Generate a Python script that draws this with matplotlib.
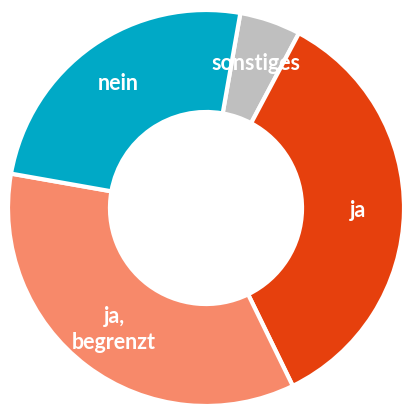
import matplotlib
matplotlib.use("Agg")
import matplotlib.pyplot as plt

categories = ["sonstiges", "ja", "ja,\nbegrenzt", "nein"]
values = [5, 35, 35, 25]
colors = ["#BFBFBF", "#E6400D", "#F7896A", "#00A9C6"]

fig = plt.figure(figsize=(4.04, 4.07), dpi=100)
ax = fig.add_axes([8 / 404, 1 / 407, 396 / 404, 396 / 407])
ax.pie(values, labels=categories, colors=colors, startangle=80, counterclock=False,
       radius=1.0, labeldistance=0.77,
       wedgeprops=dict(width=0.515, edgecolor="white", linewidth=3),
       textprops=dict(ha="center", va="center", color="white",
                      fontweight="bold", fontsize=15.5, family=["Lato", "DejaVu Sans"],
                      linespacing=1.3))
ax.set_xlim(-1, 1)
ax.set_ylim(-1, 1)
ax.set_aspect("equal")
ax.axis("off")
fig.savefig("out.png", dpi=100)
